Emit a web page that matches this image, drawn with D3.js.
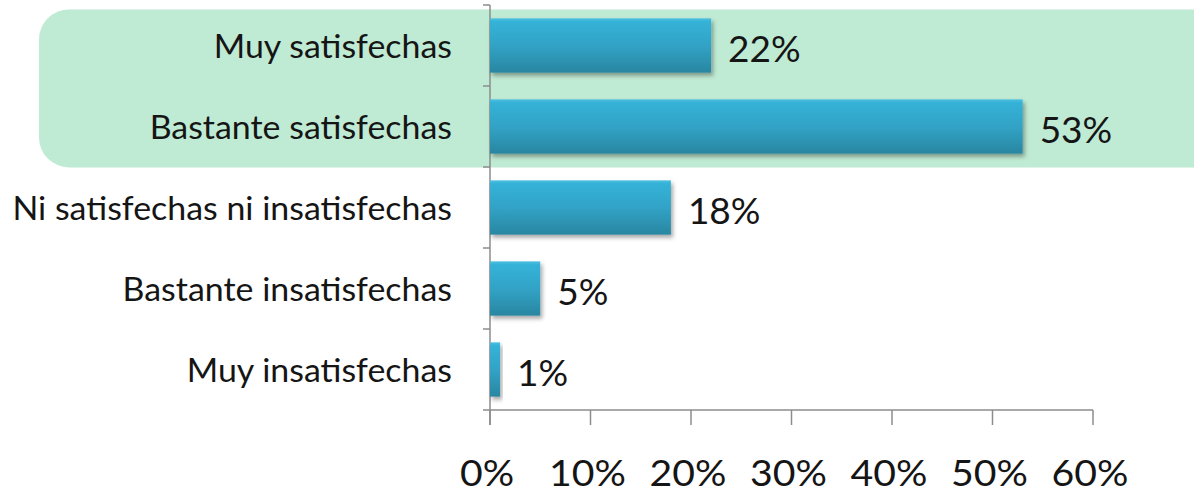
<!DOCTYPE html>
<html>
<head>
<meta charset="utf-8">
<script src="https://cdn.jsdelivr.net/npm/d3@7"></script>
<style>
  body { margin: 0; background: #fff; }
  svg text { font-family: Lato, "Open Sans", sans-serif; fill: #151515; }
</style>
</head>
<body>
<div id="chart"></div>
<script>
// DATA
const categories = ["Muy satisfechas", "Bastante satisfechas", "Ni satisfechas ni insatisfechas", "Bastante insatisfechas", "Muy insatisfechas"]
const values = [22, 53, 18, 5, 1]
const tick_values = [0, 10, 20, 30, 40, 50, 60]

const width = 1194, height = 497

const svg = d3.select("div#chart").append("svg")
  .attr("width", width)
  .attr("height", height)

const x = d3.scaleLinear().domain([0, 60]).range([490, 1093])
const y = d3.scaleBand().domain(categories).range([5, 410])
  .paddingInner(0.33).paddingOuter(0.165)

// gradient + shadow
const defs = svg.append("defs")
const grad = defs.append("linearGradient").attr("id", "barGrad")
  .attr("x1", 0).attr("y1", 0).attr("x2", 0).attr("y2", 1)
grad.append("stop").attr("offset", "0%").attr("stop-color", "#4cbfe0")
grad.append("stop").attr("offset", "6%").attr("stop-color", "#35b2d8")
grad.append("stop").attr("offset", "50%").attr("stop-color", "#31a3c6")
grad.append("stop").attr("offset", "100%").attr("stop-color", "#2a86a1")

const shadow = defs.append("filter").attr("id", "shadow")
  .attr("x", "-10%").attr("y", "-20%").attr("width", "130%").attr("height", "160%")
shadow.append("feDropShadow").attr("dx", 2).attr("dy", 3)
  .attr("stdDeviation", 2).attr("flood-color", "#000").attr("flood-opacity", 0.35)

// highlight box behind the two top categories
const boxTop = y(categories[0]) - y.step() * 0.11
const boxBottom = y(categories[1]) + y.bandwidth() + y.step() * 0.17
svg.append("rect")
  .attr("x", 39).attr("y", boxTop)
  .attr("width", 1200).attr("height", boxBottom - boxTop)
  .attr("rx", 30).attr("ry", 30)
  .attr("fill", "#bfead3")

// axes
const axisColor = "#8c8c8c"
const yAxis = svg.append("g")
yAxis.append("line")
  .attr("x1", x(0)).attr("x2", x(0))
  .attr("y1", y.range()[0]).attr("y2", y.range()[1] + 15)
  .attr("stroke", axisColor).attr("stroke-width", 1.5)
const boundaries = d3.range(categories.length + 1).map(i => y.range()[0] + i * y.step())
yAxis.selectAll("line.tick").data(boundaries).join("line")
  .attr("class", "tick")
  .attr("x1", x(0) - 7).attr("x2", x(0))
  .attr("y1", d => d).attr("y2", d => d)
  .attr("stroke", axisColor).attr("stroke-width", 1.5)

const xAxis = svg.append("g")
xAxis.append("line")
  .attr("x1", x(0)).attr("x2", x(60))
  .attr("y1", y.range()[1]).attr("y2", y.range()[1])
  .attr("stroke", axisColor).attr("stroke-width", 1.5)
xAxis.selectAll("line.tick").data(tick_values).join("line")
  .attr("class", "tick")
  .attr("x1", d => x(d)).attr("x2", d => x(d))
  .attr("y1", y.range()[1]).attr("y2", y.range()[1] + 15)
  .attr("stroke", axisColor).attr("stroke-width", 1.5)

xAxis.selectAll("text").data(tick_values).join("text")
  .attr("text-anchor", "middle")
  .attr("font-size", 37)
  .attr("transform", d => `translate(${x(d) - 3},486) scale(1.06,1)`)
  .text(d => d + "%")

// category labels
svg.selectAll("text.cat").data(categories).join("text")
  .attr("class", "cat")
  .attr("text-anchor", "end")
  .attr("font-size", 32)
  .attr("transform", d => `translate(452,${y(d) + y.bandwidth() / 2 + 12}) scale(1.06,1)`)
  .text(d => d)

// bars
svg.selectAll("rect.bar").data(values).join("rect")
  .attr("class", "bar")
  .attr("x", x(0))
  .attr("y", (d, i) => y(categories[i]))
  .attr("width", d => x(d) - x(0))
  .attr("height", y.bandwidth())
  .attr("fill", "url(#barGrad)")
  .attr("filter", "url(#shadow)")

// value labels
svg.selectAll("text.val").data(values).join("text")
  .attr("class", "val")
  .attr("font-size", 37)
  .attr("transform", (d, i) => `translate(${x(d) + 17},${y(categories[i]) + y.bandwidth() / 2 + 16})`)
  .text(d => d + "%")
</script>
</body>
</html>
